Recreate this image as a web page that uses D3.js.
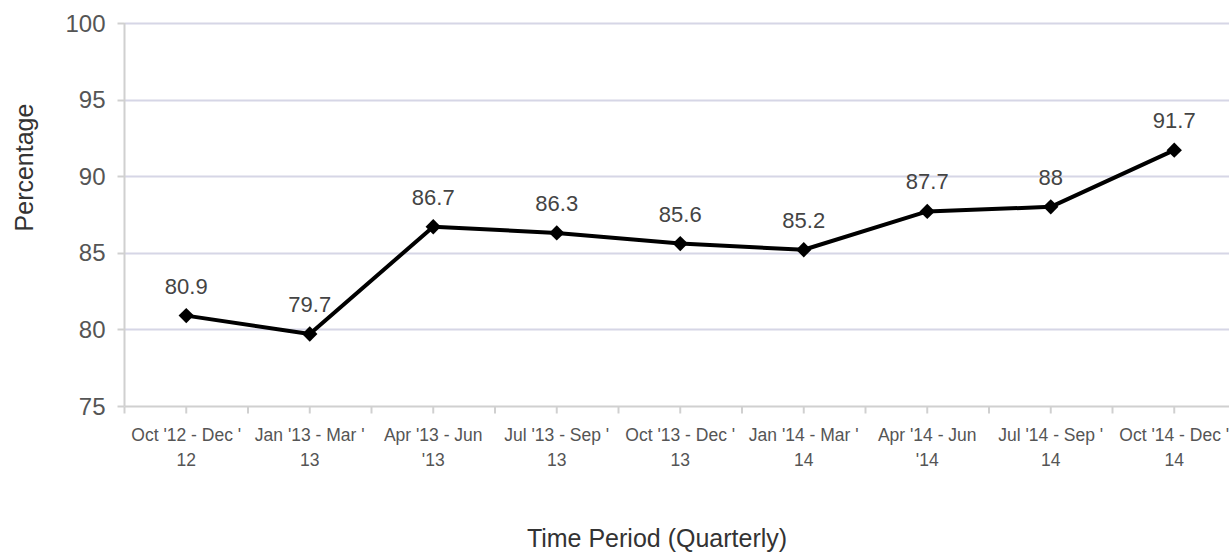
<!DOCTYPE html>
<html>
<head>
<meta charset="utf-8">
<script src="https://cdn.jsdelivr.net/npm/d3@7"></script>
<style>
  body { margin: 0; background: #fff; }
  svg { display: block; font-family: "Liberation Sans", Arial, Helvetica, sans-serif; }
</style>
</head>
<body>
<svg id="chart"></svg>
<script>
// --- Data ---
const quarters = [
  "Oct '12 - Dec '12", "Jan '13 - Mar '13", "Apr '13 - Jun '13",
  "Jul '13 - Sep '13", "Oct '13 - Dec '13", "Jan '14 - Mar '14",
  "Apr '14 - Jun '14", "Jul '14 - Sep '14", "Oct '14 - Dec '14",
];
// how each tick label wraps onto two lines in the original
const quarterLines = [
  ["Oct '12 - Dec '", "12"], ["Jan '13 - Mar '", "13"], ["Apr '13 - Jun", "'13"],
  ["Jul '13 - Sep '", "13"], ["Oct '13 - Dec '", "13"], ["Jan '14 - Mar '", "14"],
  ["Apr '14 - Jun", "'14"], ["Jul '14 - Sep '", "14"], ["Oct '14 - Dec '", "14"],
];
const percentages = [80.9, 79.7, 86.7, 86.3, 85.6, 85.2, 87.7, 88, 91.7];
const yTicks = [75, 80, 85, 90, 95, 100];

// --- Layout ---
const width = 1229,
  height = 556;
const margin = { top: 23, left: 124.5, bottom: 150 };
const plotRight = margin.left + 9 * 123.5; // runs past the visible edge, as in the original

const svg = d3.select("#chart").attr("width", width).attr("height", height);

const x = d3.scaleBand().domain(quarters).range([margin.left, plotRight]);
const y = d3
  .scaleLinear()
  .domain([75, 100])
  .range([height - margin.bottom, margin.top]);

// --- Grid ---
svg
  .append("g")
  .selectAll("line")
  .data(yTicks.filter((d) => d > 75))
  .enter()
  .append("line")
  .attr("x1", margin.left)
  .attr("x2", plotRight)
  .attr("y1", (d) => Math.round(y(d)) + 0.5)
  .attr("y2", (d) => Math.round(y(d)) + 0.5)
  .attr("stroke", "#d6d6e6")
  .attr("stroke-width", 2);

// --- Y axis ---
const yAxis = svg.append("g");
yAxis
  .append("line")
  .attr("x1", margin.left)
  .attr("x2", margin.left)
  .attr("y1", y(100))
  .attr("y2", y(75))
  .attr("stroke", "#d0d0d0")
  .attr("stroke-width", 2);
yAxis
  .selectAll(".ytick")
  .data(yTicks)
  .enter()
  .append("line")
  .attr("x1", margin.left - 7)
  .attr("x2", margin.left)
  .attr("y1", (d) => Math.round(y(d)) + 0.5)
  .attr("y2", (d) => Math.round(y(d)) + 0.5)
  .attr("stroke", "#d0d0d0")
  .attr("stroke-width", 2);
yAxis
  .selectAll("text")
  .data(yTicks)
  .enter()
  .append("text")
  .attr("x", margin.left - 19)
  .attr("y", (d) => y(d))
  .attr("dy", "0.36em")
  .attr("text-anchor", "end")
  .attr("font-size", "24px")
  .attr("fill", "#555")
  .text((d) => d);

// --- X axis ---
const xAxis = svg.append("g");
const y0 = Math.round(y(75)) + 0.5;
xAxis
  .append("line")
  .attr("x1", margin.left)
  .attr("x2", plotRight)
  .attr("y1", y0)
  .attr("y2", y0)
  .attr("stroke", "#d0d0d0")
  .attr("stroke-width", 2);

// ticks at band edges and centers
const tickPos = [];
quarters.forEach((q) => {
  tickPos.push(x(q), x(q) + x.bandwidth() / 2);
});
tickPos.push(plotRight);
xAxis
  .selectAll(".xtick")
  .data(tickPos)
  .enter()
  .append("line")
  .attr("x1", (d) => d)
  .attr("x2", (d) => d)
  .attr("y1", y0)
  .attr("y2", y0 + 7)
  .attr("stroke", "#d0d0d0")
  .attr("stroke-width", 2);

const xLabels = xAxis
  .selectAll(".xlabel")
  .data(quarters)
  .enter()
  .append("text")
  .attr("text-anchor", "middle")
  .attr("font-size", "17.5px")
  .attr("fill", "#555");
xLabels.each(function (q, i) {
  const t = d3.select(this);
  const cx = x(q) + x.bandwidth() / 2;
  quarterLines[i].forEach((line, k) => {
    t.append("tspan")
      .attr("x", cx)
      .attr("y", y0 + 34 + k * 25)
      .text(line);
  });
});

// --- Axis titles ---
svg
  .append("text")
  .attr("x", 657)
  .attr("y", 547)
  .attr("text-anchor", "middle")
  .attr("font-size", "25px")
  .attr("fill", "#333")
  .text("Time Period (Quarterly)");

svg
  .append("text")
  .attr("transform", `translate(33,${(y(75) + y(100)) / 2 - 47}) rotate(-90)`)
  .attr("text-anchor", "middle")
  .attr("font-size", "25px")
  .attr("fill", "#333")
  .text("Percentage");

// --- Series ---
const pts = quarters.map((q, i) => ({
  q,
  v: percentages[i],
  cx: x(q) + x.bandwidth() / 2,
  cy: y(percentages[i]),
}));

svg
  .append("path")
  .datum(pts)
  .attr("fill", "none")
  .attr("stroke", "#000")
  .attr("stroke-width", 4)
  .attr("stroke-linejoin", "round")
  .attr(
    "d",
    d3
      .line()
      .x((d) => d.cx)
      .y((d) => d.cy)
  );

svg
  .selectAll(".marker")
  .data(pts)
  .enter()
  .append("path")
  .attr("transform", (d) => `translate(${d.cx},${d.cy})`)
  .attr("d", d3.symbol().type(d3.symbolDiamond2).size(150)())
  .attr("fill", "#000");

svg
  .selectAll(".label")
  .data(pts)
  .enter()
  .append("text")
  .attr("x", (d) => d.cx)
  .attr("y", (d) => d.cy - 22)
  .attr("text-anchor", "middle")
  .attr("font-size", "22px")
  .attr("fill", "#444")
  .text((d) => d.v);
</script>
</body>
</html>
